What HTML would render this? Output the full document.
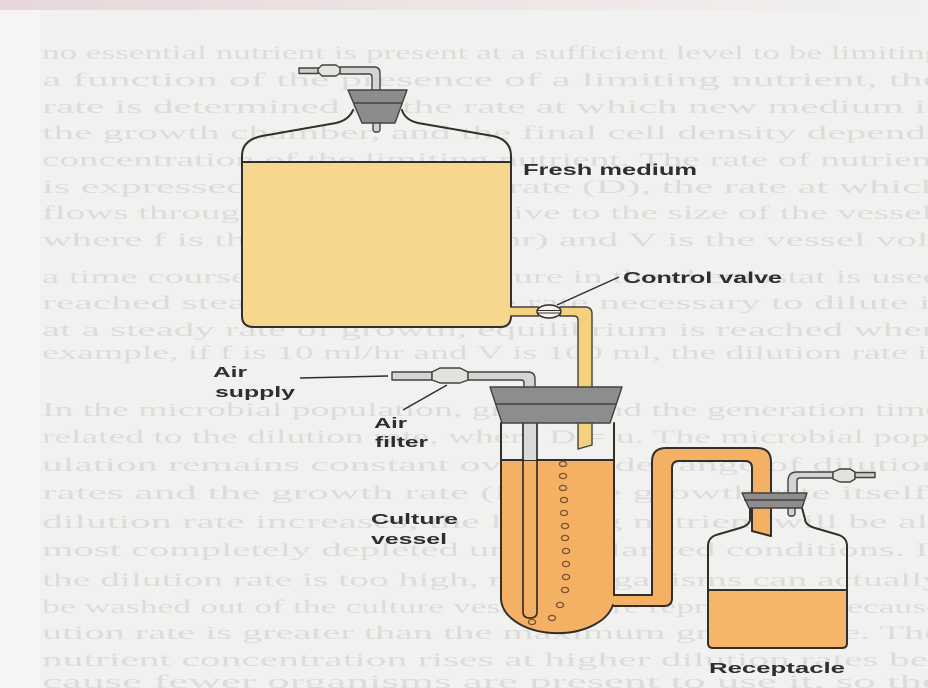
<!DOCTYPE html>
<html><head><meta charset="utf-8">
<style>
html,body{margin:0;padding:0;background:#f1f1ef;}
svg{display:block}
.bt{font-family:"Liberation Serif",serif;font-size:19px;fill:#dcdcda;}
.lb{font-family:"Liberation Sans",sans-serif;font-weight:bold;fill:#2e2e2e;}
.o{fill:none;stroke:#332e2b;stroke-width:2;stroke-linejoin:round;stroke-linecap:round;}
.t{stroke:#45403d;stroke-width:1.4;stroke-linejoin:round;}
.bub{fill:none;stroke:#7a5330;stroke-width:1.3;}
</style></head><body>
<svg width="928" height="688" viewBox="0 0 928 688" xmlns="http://www.w3.org/2000/svg">
<defs>
<linearGradient id="tg" x1="0" x2="1" y1="0" y2="0"><stop offset="0" stop-color="#e8d6da"/><stop offset="0.45" stop-color="#ede4e4"/><stop offset="1" stop-color="#f1f1ef"/></linearGradient>
</defs>
<rect width="928" height="688" fill="#f1f1ef"/>
<rect x="0" y="0" width="40" height="688" fill="#f6f4f4"/>
<rect x="0" y="0" width="928" height="10" fill="url(#tg)"/>

<!-- bleed-through text -->
<g class="bt">
<text x="42" y="59" textLength="900" lengthAdjust="spacingAndGlyphs">no essential nutrient is present at a sufficient level to be limiting</text>
<text x="42" y="86" textLength="900" lengthAdjust="spacingAndGlyphs">a function of the presence of a limiting nutrient, the</text>
<text x="42" y="113" textLength="900" lengthAdjust="spacingAndGlyphs">rate is determined by the rate at which new medium is</text>
<text x="42" y="139" textLength="900" lengthAdjust="spacingAndGlyphs">the growth chamber, and the final cell density depends</text>
<text x="42" y="166" textLength="900" lengthAdjust="spacingAndGlyphs">concentration of the limiting nutrient. The rate of nutrient</text>
<text x="42" y="193" textLength="900" lengthAdjust="spacingAndGlyphs">is expressed as the dilution rate (D), the rate at which</text>
<text x="42" y="219" textLength="900" lengthAdjust="spacingAndGlyphs">flows through the culture relative to the size of the vessel,</text>
<text x="42" y="246" textLength="900" lengthAdjust="spacingAndGlyphs">where f is the flow rate (ml/hr) and V is the vessel vol-</text>
<text x="42" y="283" textLength="900" lengthAdjust="spacingAndGlyphs">a time course. Continuous culture in the chemostat is used</text>
<text x="42" y="309" textLength="900" lengthAdjust="spacingAndGlyphs">reached steady state, and the rate necessary to dilute it</text>
<text x="42" y="336" textLength="900" lengthAdjust="spacingAndGlyphs">at a steady rate of growth, equilibrium is reached when</text>
<text x="42" y="359" textLength="900" lengthAdjust="spacingAndGlyphs">example, if f is 10 ml/hr and V is 100 ml, the dilution rate is</text>
<text x="42" y="416" textLength="900" lengthAdjust="spacingAndGlyphs">In the microbial population, growth and the generation time</text>
<text x="42" y="443" textLength="900" lengthAdjust="spacingAndGlyphs">related to the dilution rate, where D = u. The microbial pop-</text>
<text x="42" y="471" textLength="900" lengthAdjust="spacingAndGlyphs">ulation remains constant over a wide range of dilution</text>
<text x="42" y="499" textLength="900" lengthAdjust="spacingAndGlyphs">rates and the growth rate (i.e., the growth rate itself)</text>
<text x="42" y="528" textLength="900" lengthAdjust="spacingAndGlyphs">dilution rate increases, the limiting nutrient will be al-</text>
<text x="42" y="556" textLength="900" lengthAdjust="spacingAndGlyphs">most completely depleted under balanced conditions. If</text>
<text x="42" y="586" textLength="900" lengthAdjust="spacingAndGlyphs">the dilution rate is too high, microorganisms can actually</text>
<text x="42" y="613" textLength="900" lengthAdjust="spacingAndGlyphs">be washed out of the culture vessel before reproducing because</text>
<text x="42" y="639" textLength="900" lengthAdjust="spacingAndGlyphs">ution rate is greater than the maximum growth rate. The</text>
<text x="42" y="666" textLength="900" lengthAdjust="spacingAndGlyphs">nutrient concentration rises at higher dilution rates be-</text>
<text x="42" y="688" textLength="900" lengthAdjust="spacingAndGlyphs">cause fewer organisms are present to use it, so the</text>
</g>

<!-- ===== Fresh medium bottle ===== -->
<path d="M242,162 L511,162 L511,316 Q511,327 500,327 L254,327 Q242,327 242,316 Z" fill="#f6d78d"/>
<path class="o" d="M353,110 Q349,120 336,123 L262,136 Q242,140 242,156 L242,316 Q242,327 254,327 L500,327 Q511,327 511,316 L511,156 Q511,140 493,136 L418,123 Q405,120 402,110"/>
<path class="o" d="M242,162 H511"/>

<!-- top tube + connector -->
<path class="t" fill="#d4d4d4" d="M340,67 L374,67 Q380,67 380,73 L380,92 L372,92 L372,77 Q372,74 369,74 L340,74 Z"/>
<path class="t" fill="#e4e4e2" d="M318,69 L322,65 L336,65 L340,68 L340,73 L336,76 L322,76 L318,72 Z"/>
<rect class="t" x="299" y="68" width="19" height="5.5" fill="#cdcdcd"/>
<!-- stopper -->
<rect class="t" x="373" y="120" width="7" height="12" rx="2.5" fill="#d0d0d0"/>
<path class="t" fill="#8c8c8c" d="M348,90 L407,90 L395,123 L362,123 Z"/>
<path class="t" fill="none" d="M353,103 H402"/>

<!-- outlet tube + valve -->
<rect x="509" y="307.5" width="30" height="8" fill="#f3d27f"/>
<path class="t" fill="none" d="M511,307 H539 M511,316 H539"/>
<path class="t" fill="#f3d27f" d="M560,307 L585,307 Q592,307 592,314 L592,445 L578,449 L578,320 Q578,316 574,316 L560,316 Z"/>
<ellipse cx="549" cy="311.5" rx="12" ry="6.5" fill="#f4f4f2" stroke="#332e2b" stroke-width="1.5"/>
<path d="M538,310.5 H560 M538,313 H560" stroke="#332e2b" stroke-width="1"/>
<path d="M557,305 L619,277" stroke="#2e2e2e" stroke-width="1.5"/>

<!-- ===== Air supply ===== -->
<path d="M300,378 L388,376" stroke="#2e2e2e" stroke-width="1.5"/>
<rect class="t" x="392" y="372" width="40" height="8" fill="#d4d4d4"/>
<path class="t" fill="#e2e2e0" d="M432,372 L440,368 L460,368 L468,372 L468,380 L460,383 L440,383 L432,380 Z"/>
<path class="t" fill="#d4d4d4" d="M468,372 L528,372 Q535,372 535,379 L535,390 L524,390 L524,383 Q524,380 521,380 L468,380 Z"/>
<path d="M447,385 L403,410" stroke="#2e2e2e" stroke-width="1.5"/>

<!-- ===== Culture vessel ===== -->
<path d="M501,460 L614,460 L614,598 A56.5 35 0 0 1 501,598 Z" fill="#f4b164"/>
<!-- siphon -->
<path fill="#f4b164" d="M612,595 L652,595 L652,462 Q652,448 666,448 L757,448 Q771,448 771,462 L771,536 L752,531 L752,468 Q752,461 745,461 L679,461 Q672,461 672,468 L672,598 Q672,606 664,606 L611,606 Z"/>
<path class="o" d="M614,595 L652,595 L652,462 Q652,448 666,448 L757,448 Q771,448 771,462 L771,536 L752,531 L752,468 Q752,461 745,461 L679,461 Q672,461 672,468 L672,598 Q672,606 664,606 L613,606"/>
<!-- vessel walls -->
<path class="o" d="M501,423 L501,598 A56.5 35 0 0 0 612.9,605"/>
<path class="o" d="M614,423 L614,595"/>
<path class="o" d="M501,460 H614"/>
<!-- air tube inside -->
<rect x="524" y="423" width="12" height="37" fill="#dadada"/>
<path class="o" style="stroke-width:1.7" d="M523,423 L523,612 Q523,618 530,618 Q537,618 537,612 L537,423"/>
<!-- bubbles -->
<g class="bub">
<ellipse cx="563" cy="464" rx="3.6" ry="2.6"/>
<ellipse cx="563" cy="476" rx="3.6" ry="2.6"/>
<ellipse cx="563" cy="488" rx="3.6" ry="2.6"/>
<ellipse cx="564" cy="500" rx="3.6" ry="2.6"/>
<ellipse cx="564" cy="513" rx="3.6" ry="2.6"/>
<ellipse cx="565" cy="526" rx="3.6" ry="2.6"/>
<ellipse cx="565" cy="538" rx="3.6" ry="2.6"/>
<ellipse cx="566" cy="551" rx="3.6" ry="2.6"/>
<ellipse cx="566" cy="564" rx="3.6" ry="2.6"/>
<ellipse cx="566" cy="577" rx="3.6" ry="2.6"/>
<ellipse cx="565" cy="590" rx="3.6" ry="2.6"/>
<ellipse cx="560" cy="605" rx="3.6" ry="2.6"/>
<ellipse cx="552" cy="618" rx="3.6" ry="2.6"/>
<ellipse cx="532" cy="622" rx="3.6" ry="2.6"/>
</g>
<!-- culture stopper -->
<path class="t" fill="#8d8d8d" d="M490,387 L622,387 L610,423 L502,423 Z"/>
<path class="t" fill="none" d="M496,404 H616"/>

<!-- ===== Receptacle ===== -->
<path d="M708,590 L847,590 L847,643 Q847,648 842,648 L713,648 Q708,648 708,643 Z" fill="#f5b66a"/>
<path class="o" d="M750,508 L750,519 Q750,525 740,528 L716,535 Q708,538 708,546 L708,643 Q708,648 713,648 L842,648 Q847,648 847,643 L847,546 Q847,538 839,535 L815,528 Q805,525 805,519 L802,508"/>
<path class="o" d="M708,590 H847"/>
<!-- redraw siphon leg inside neck -->
<path fill="#f4b164" d="M753,500 L770,500 L770,535 L753,531 Z"/>
<path class="o" d="M771,500 L771,536 L752,531 L752,500"/>
<!-- exit tube -->
<path class="t" fill="#d4d4d4" d="M788,495 L788,481 Q788,472 797,472 L833,472 L833,478 L800,478 Q797,478 797,481 L797,495 Z"/>
<path class="t" fill="#e2e2e0" d="M833,472 L840,469 L850,469 L855,472 L855,479 L850,482 L840,482 L833,479 Z"/>
<rect class="t" x="855" y="472.5" width="20" height="5" fill="#cdcdcd"/>
<rect class="t" x="788" y="505" width="7" height="11" rx="2.5" fill="#d0d0d0"/>
<!-- receptacle stopper -->
<path class="t" fill="#8d8d8d" d="M742,493 L807,493 L802,508 L749,508 Z"/>
<path class="t" fill="none" d="M744,500 H805"/>

<!-- ===== Labels ===== -->
<text class="lb" x="523" y="175" font-size="16" textLength="174" lengthAdjust="spacingAndGlyphs">Fresh medium</text>
<text class="lb" x="623" y="283" font-size="16" textLength="159" lengthAdjust="spacingAndGlyphs">Control valve</text>
<text class="lb" x="213" y="377" font-size="15" textLength="34" lengthAdjust="spacingAndGlyphs">Air</text>
<text class="lb" x="215" y="397" font-size="15" textLength="80" lengthAdjust="spacingAndGlyphs">supply</text>
<text class="lb" x="374" y="428" font-size="15" textLength="33" lengthAdjust="spacingAndGlyphs">Air</text>
<text class="lb" x="375" y="447" font-size="15" textLength="53" lengthAdjust="spacingAndGlyphs">filter</text>
<text class="lb" x="371" y="524" font-size="15" textLength="87" lengthAdjust="spacingAndGlyphs">Culture</text>
<text class="lb" x="371" y="544" font-size="15" textLength="76" lengthAdjust="spacingAndGlyphs">vessel</text>
<text class="lb" x="709" y="673" font-size="15" textLength="136" lengthAdjust="spacingAndGlyphs">Receptacle</text>
</svg>
</body></html>
